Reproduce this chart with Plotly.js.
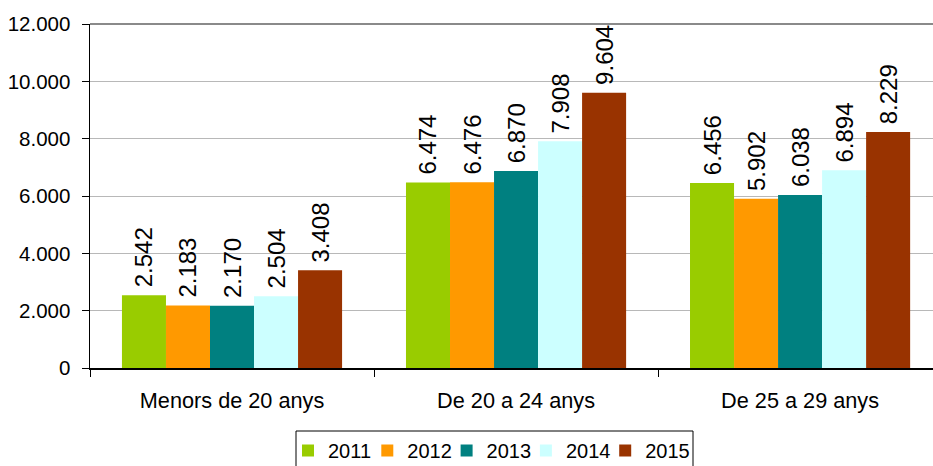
<!DOCTYPE html>
<html><head><meta charset="utf-8">
<script src="https://cdn.plot.ly/plotly-3.0.1.min.js"></script>
<style>html,body{margin:0;padding:0;background:#fff}#chart{width:933px;height:466px}</style>
</head><body><div id="chart"></div>
<script>
const categories = ["Menors de 20 anys", "De 20 a 24 anys", "De 25 a 29 anys"];
const years = ["2011", "2012", "2013", "2014", "2015"];
const v2011 = [2542, 6474, 6456];
const v2012 = [2183, 6476, 5902];
const v2013 = [2170, 6870, 6038];
const v2014 = [2504, 7908, 6894];
const v2015 = [3408, 9604, 8229];
const yTicks = [0, 2000, 4000, 6000, 8000, 10000, 12000];
const colors = ["#99CC00", "#FF9900", "#008080", "#CCFFFF", "#993300"];
const series = [v2011, v2012, v2013, v2014, v2015];

const FONT = "Liberation Sans, Arial, sans-serif";

const traces = series.map((vals, i) => ({
  type: "bar",
  name: years[i],
  x: categories,
  y: vals,
  marker: {color: colors[i], line: {width: 0}},
  texttemplate: "\u2009%{y:,}",
  textposition: "outside",
  textangle: -90,
  constraintext: "none",
  cliponaxis: false,
  textfont: {family: FONT, size: 24, color: "#000"},
  hoverinfo: "skip"
}));

const layout = {
  width: 933, height: 466,
  margin: {l: 90, r: 0, t: 24, b: 98, autoexpand: false},
  separators: ",.",
  font: {family: FONT, color: "#000"},
  paper_bgcolor: "#fff", plot_bgcolor: "#fff",
  barmode: "group", bargap: 0.225, bargroupgap: 0,
  showlegend: true,
  legend: {
    orientation: "h", xref: "container", yref: "container",
    x: 288 / 933, xanchor: "left", y: 1 - 431 / 466, yanchor: "top",
    borderwidth: 0, bgcolor: "rgba(0,0,0,0)",
    font: {family: FONT, size: 20, color: "#000"},
    traceorder: "normal", itemwidth: 30, entrywidth: 34.3
  },
  shapes: [
    {type: "line", xref: "paper", yref: "paper", x0: 0, x1: 1, y0: 1, y1: 1,
     line: {color: "#8a8a8a", width: 2}},
    {type: "rect", xref: "paper", yref: "paper", layer: "below",
     x0: 206 / 843, x1: 603 / 843, y0: -63 / 344, y1: -104 / 344,
     line: {color: "#000", width: 1}, fillcolor: "rgba(0,0,0,0)"}
  ],
  xaxis: {
    type: "category",
    range: [-0.5, 2.468],
    showline: true, linecolor: "#000", linewidth: 1.5,
    ticks: "outside", tickson: "boundaries", ticklen: 7, tickcolor: "#000",
    tickfont: {family: FONT, size: 21.7},
    ticklabelstandoff: 12,
    showgrid: false, zeroline: false
  },
  yaxis: {
    range: [0, 12000],
    tickvals: yTicks,
    tickformat: ",",
    showline: true, linecolor: "#000", linewidth: 1.5,
    ticks: "outside", ticklen: 7, tickcolor: "#000",
    tickfont: {family: FONT, size: 20.5},
    ticklabelstandoff: 7,
    showgrid: true, gridcolor: "#b8b8b8", gridwidth: 1,
    zeroline: false
  }
};

Plotly.newPlot("chart", traces, layout, {displayModeBar: false, staticPlot: true}).then(gd => {
  // let the last legend label extend past the legend's computed clip box
  gd.querySelectorAll(".legend [clip-path]").forEach(el => el.removeAttribute("clip-path"));
});
</script></body></html>
